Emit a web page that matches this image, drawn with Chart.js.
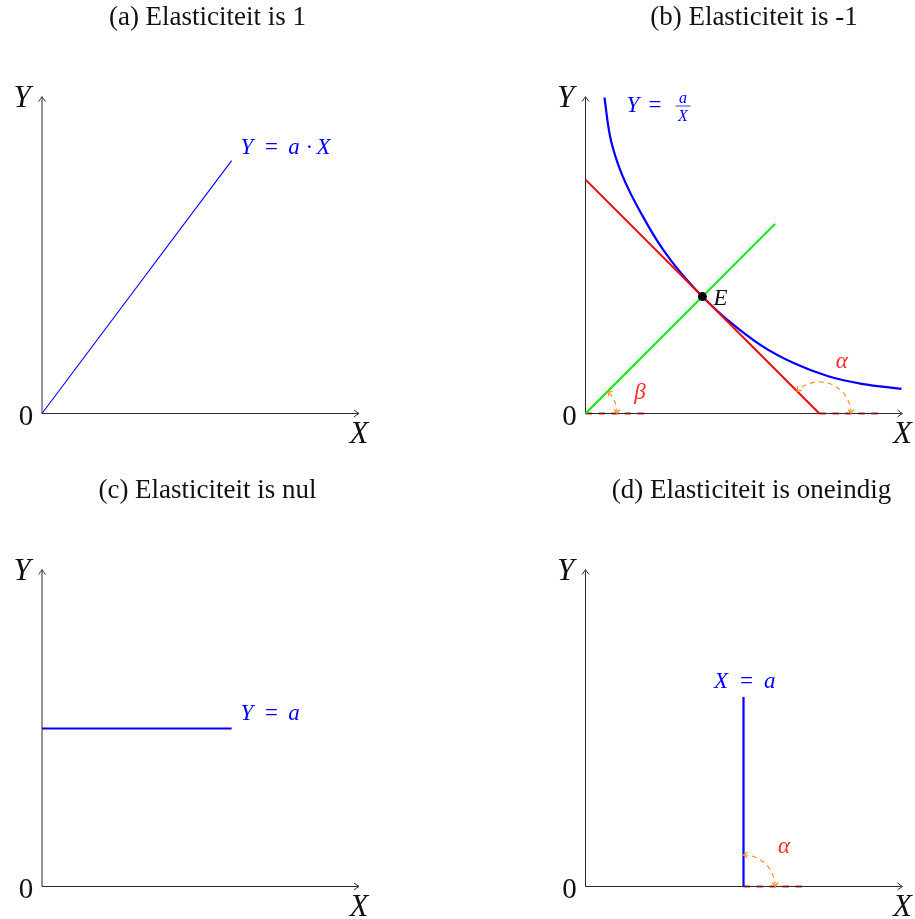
<!DOCTYPE html>
<html>
<head>
<meta charset="utf-8">
<script src="https://cdn.jsdelivr.net/npm/chart.js@4.4.1/dist/chart.umd.min.js"></script>
<style>
  html, body { margin: 0; padding: 0; background: #fff; }
  #fig { position: relative; width: 915px; height: 919px; }
  #fig canvas { position: absolute; }
</style>
</head>
<body>
<div id="fig">
  <canvas id="pa" width="457" height="460" style="left:0;top:0"></canvas>
  <canvas id="pb" width="457" height="460" style="left:458px;top:0"></canvas>
  <canvas id="pc" width="457" height="446" style="left:0;top:473px"></canvas>
  <canvas id="pd" width="457" height="446" style="left:458px;top:473px"></canvas>
</div>
<script>
const axisMax = 5;
const titles = ['(a) Elasticiteit is 1', '(b) Elasticiteit is -1', '(c) Elasticiteit is nul', '(d) Elasticiteit is oneindig'];

// (a) Y = a.X
const aX = [0, 3];
const aY = [0, 4];

// (b) Y = a/X with tangent in E and ray from the origin
const bCurveX = [0.30, 0.39, 0.52, 0.68, 0.89, 1.13, 1.36, 1.60, 1.85, 2.26, 2.79, 3.31, 3.84, 4.37, 5.00];
const bCurveY = [5.00, 4.38, 3.93, 3.55, 3.15, 2.74, 2.41, 2.12, 1.85, 1.47, 1.07, 0.79, 0.59, 0.47, 0.39];
const bTangentX = [0, 3.7];
const bTangentY = [3.7, 0];
const bRayX = [0, 3];
const bRayY = [0, 3];
const bPointE = [1.85, 1.85];
const bAngleAt = [0, 3.7];
const bAngleDeg = [45, 135];
const bAngleName = ['β', 'α'];

// (c) Y = a
const cX = [0, 3];
const cY = [2.5, 2.5];

// (d) X = a
const dX = [2.5, 2.5];
const dY = [0, 3];
const dAngleAt = [2.5];
const dAngleDeg = [90];
const dAngleName = ['α'];

const serif = '"Liberation Serif", "DejaVu Serif", serif';
const font = (size, italic) => (italic ? 'italic ' : '') + size + 'px ' + serif;
const BLUE = '#0000ff';

function pts(xs, ys) {
  return xs.map((x, i) => ({ x: x, y: ys[i] }));
}

function lineSet(xs, ys, color, width, extra) {
  return Object.assign({
    data: pts(xs, ys),
    showLine: true,
    borderColor: color,
    borderWidth: width,
    pointRadius: 0,
    clip: false
  }, extra || {});
}

// text runs: [text, italic, offset from start]
function drawRuns(ctx, x, y, runs, size, color) {
  ctx.fillStyle = color;
  ctx.textAlign = 'left';
  ctx.textBaseline = 'alphabetic';
  runs.forEach(([t, it, dx]) => {
    ctx.font = font(size, it);
    ctx.fillText(t, x + dx, y);
  });
}

function arrowHead(ctx, tx, ty, dx, dy, len, half) {
  const nx = -dy, ny = dx;
  ctx.beginPath();
  ctx.moveTo(tx - dx * len + nx * half, ty - dy * len + ny * half);
  ctx.quadraticCurveTo(tx - dx * len * 0.35 + nx * half * 0.25, ty - dy * len * 0.35 + ny * half * 0.25, tx, ty);
  ctx.quadraticCurveTo(tx - dx * len * 0.35 - nx * half * 0.25, ty - dy * len * 0.35 - ny * half * 0.25,
    tx - dx * len - nx * half, ty - dy * len - ny * half);
  ctx.stroke();
}

function decor(p) {
  return {
    id: 'decor',
    beforeDatasetsDraw(chart) {
      const { ctx } = chart;
      const { x, y } = chart.scales;
      const ox = x.getPixelForValue(0), oy = y.getPixelForValue(0);
      const ex = x.getPixelForValue(axisMax), ey = y.getPixelForValue(axisMax);
      ctx.save();
      // red dashed pieces on the X axis next to each angle
      ctx.strokeStyle = '#e02828';
      ctx.lineWidth = 2;
      ctx.setLineDash([6.5, 6.5]);
      (p.angleAt || []).forEach(v => {
        ctx.beginPath();
        ctx.moveTo(x.getPixelForValue(v), oy);
        ctx.lineTo(x.getPixelForValue(v + 1), oy);
        ctx.stroke();
      });
      ctx.setLineDash([]);

      // axes with arrow heads
      ctx.strokeStyle = '#2b2b2b';
      ctx.lineWidth = 1;
      ctx.beginPath();
      ctx.moveTo(ox, oy); ctx.lineTo(ex, oy);
      ctx.moveTo(ox, oy); ctx.lineTo(ox, ey);
      ctx.stroke();
      arrowHead(ctx, ex + 1, oy, 1, 0, 5, 3.5);
      arrowHead(ctx, ox, ey - 1, 0, -1, 5, 3.5);

      ctx.fillStyle = '#111';
      ctx.textAlign = 'center';
      ctx.textBaseline = 'alphabetic';
      ctx.font = font(31, true);
      ctx.fillText('Y', ox - 20, ey + 9.5);
      ctx.fillText('X', ex + 1, oy + 29.5);
      ctx.font = font(29, false);
      ctx.fillText('0', ox - 16, oy + 11.5);

      ctx.font = font(27, false);
      ctx.fillText(p.title, p.titleX, 25);
      ctx.restore();
    },
    afterDatasetsDraw(chart) {
      const { ctx } = chart;
      const { x, y } = chart.scales;
      const oy = y.getPixelForValue(0);
      ctx.save();
      // dashed angle arcs with arrows at both ends
      (p.angleAt || []).forEach((v, i) => {
        const cx = x.getPixelForValue(v);
        const r = x.getPixelForValue(v + 0.5) - cx;
        const a = p.angleDeg[i] * Math.PI / 180;
        ctx.strokeStyle = '#ff8f1f';
        ctx.lineWidth = 1.2;
        ctx.setLineDash([5, 4]);
        ctx.beginPath();
        ctx.arc(cx, oy, r, 0, -a, true);
        ctx.stroke();
        ctx.setLineDash([]);
        arrowHead(ctx, cx + r, oy, 0, 1, 4, 3);
        arrowHead(ctx, cx + r * Math.cos(a), oy - r * Math.sin(a), -Math.sin(a), -Math.cos(a), 4, 3);
        const off = p.nameOffset[i];
        ctx.fillStyle = '#ff2d2d';
        ctx.font = font(23, true);
        ctx.textAlign = 'center';
        ctx.fillText(p.angleName[i], cx + off[0], oy + off[1]);
      });
      if (p.labels) p.labels(ctx, v => x.getPixelForValue(v), v => y.getPixelForValue(v));
      ctx.restore();
    }
  };
}

function panel(id, padding, datasets, p) {
  new Chart(document.getElementById(id), {
    type: 'scatter',
    data: { datasets: datasets },
    options: {
      responsive: false,
      animation: false,
      events: [],
      layout: { padding: padding },
      scales: {
        x: { type: 'linear', min: 0, max: axisMax, display: false },
        y: { type: 'linear', min: 0, max: axisMax, display: false }
      },
      elements: { line: { tension: 0 } },
      plugins: { legend: { display: false }, tooltip: { enabled: false }, title: { display: false } }
    },
    plugins: [decor(p)]
  });
}

const padTop = { left: 42, right: 99, top: 97.5, bottom: 46.5 };
const padTopR = { left: 127.5, right: 13.5, top: 97.5, bottom: 46.5 };
const padBot = { left: 42, right: 99, top: 97.5, bottom: 32.5 };
const padBotR = { left: 127.5, right: 13.5, top: 97.5, bottom: 32.5 };

// (a)
panel('pa', padTop, [lineSet(aX, aY, BLUE, 1.1)], {
  title: titles[0], titleX: 207.5,
  labels(ctx, px, py) {
    drawRuns(ctx, px(aX[1]) + 9, py(aY[1]) - 7,
      [['Y', 1, 0], ['=', 0, 24.3], ['a', 1, 47.6], ['·', 0, 65], ['X', 1, 76]], 23, BLUE);
  }
});

// (b)
panel('pb', padTopR, [
  lineSet([bPointE[0]], [bPointE[1]], '#000', 0, { showLine: false, pointRadius: 4.5, backgroundColor: '#000', borderColor: '#000' }),
  lineSet(bTangentX, bTangentY, '#ff0000', 2),
  lineSet(bRayX, bRayY, '#00ee00', 2),
  lineSet(bCurveX, bCurveY, BLUE, 2.2, { tension: 0.4 })
], {
  title: titles[1], titleX: 296,
  angleAt: bAngleAt, angleDeg: bAngleDeg, angleName: bAngleName,
  nameOffset: [[54.5, -15], [22.4, -45.5]],
  labels(ctx, px, py) {
    const ox = px(0), oy = py(0);
    drawRuns(ctx, ox + 41, oy - 301.5, [['Y', 1, 0], ['=', 0, 22]], 23, BLUE);
    const fx = ox + 97.5;
    ctx.font = font(16, true);
    ctx.textAlign = 'center';
    ctx.fillText('a', fx, oy - 310.5);
    ctx.fillText('X', fx, oy - 292.5);
    ctx.strokeStyle = BLUE;
    ctx.lineWidth = 0.8;
    ctx.beginPath();
    ctx.moveTo(fx - 7.5, oy - 307.5);
    ctx.lineTo(fx + 7.5, oy - 307.5);
    ctx.stroke();
    drawRuns(ctx, px(bPointE[0]) + 11, py(bPointE[1]) + 8.5, [['E', 1, 0]], 23, '#111');
  }
});

// (c)
panel('pc', padBot, [lineSet(cX, cY, BLUE, 2.2)], {
  title: titles[2], titleX: 207.5,
  labels(ctx, px, py) {
    drawRuns(ctx, px(cX[1]) + 9, py(cY[1]) - 8.5,
      [['Y', 1, 0], ['=', 0, 24.3], ['a', 1, 47.6]], 23, BLUE);
  }
});

// (d)
panel('pd', padBotR, [lineSet(dX, dY, BLUE, 2.2)], {
  title: titles[3], titleX: 293.5,
  angleAt: dAngleAt, angleDeg: dAngleDeg, angleName: dAngleName,
  nameOffset: [[40.5, -33.5]],
  labels(ctx, px, py) {
    drawRuns(ctx, px(dX[1]) - 29.5, py(dY[1]) - 8.7,
      [['X', 1, 0], ['=', 0, 26], ['a', 1, 50]], 23, BLUE);
  }
});
</script>
</body>
</html>
